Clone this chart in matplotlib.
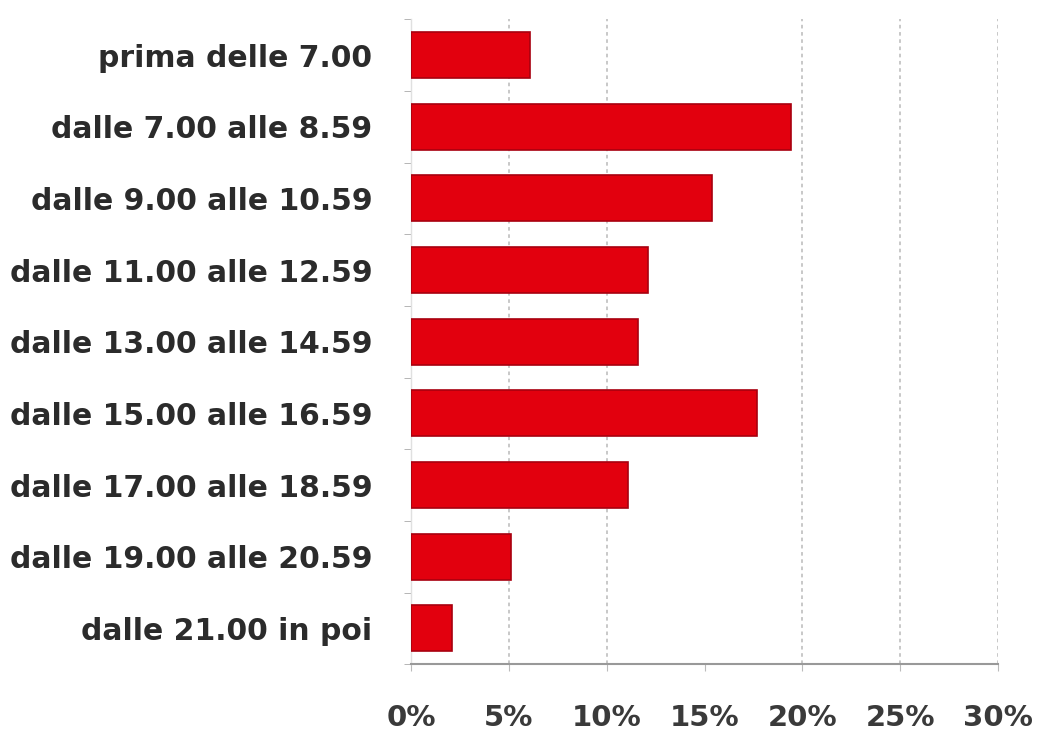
import matplotlib
matplotlib.use("Agg")
import matplotlib.pyplot as plt
from matplotlib.ticker import FixedLocator

categories = [
    "prima delle 7.00",
    "dalle 7.00 alle 8.59",
    "dalle 9.00 alle 10.59",
    "dalle 11.00 alle 12.59",
    "dalle 13.00 alle 14.59",
    "dalle 15.00 alle 16.59",
    "dalle 17.00 alle 18.59",
    "dalle 19.00 alle 20.59",
    "dalle 21.00 in poi",
]
values = [6.1, 19.4, 15.4, 12.1, 11.6, 17.7, 11.1, 5.1, 2.1]
x_ticks = [0, 5, 10, 15, 20, 25, 30]
x_labels = ["0%", "5%", "10%", "15%", "20%", "25%", "30%"]

plt.rcParams["font.family"] = ["DejaVu Sans"]

fig = plt.figure(figsize=(10.38, 7.38), dpi=100)
ax = fig.add_axes([0.396, 0.100, 0.5655, 0.874])

ypos = list(range(len(categories)))
ax.barh(ypos, values, height=0.64, color="#E2000E", edgecolor="#A8000F",
        linewidth=1.2, zorder=3)

ax.set_ylim(len(categories) - 0.5, -0.5)
ax.set_xlim(0, 30)
ax.set_yticks(ypos)
ax.set_yticklabels(categories, fontsize=21.5, fontweight="bold", color="#2b2b2b")
ax.set_xticks(x_ticks)
ax.set_xticklabels(x_labels, fontsize=21, fontweight="bold", color="#3a3a3a")

# minor ticks mark the category boundaries on the value axis
ax.yaxis.set_minor_locator(FixedLocator([i - 0.5 for i in range(len(categories) + 1)]))
ax.tick_params(axis="y", which="major", length=0, pad=28)
ax.tick_params(axis="y", which="minor", length=5, color="#aaaaaa")
ax.tick_params(axis="x", length=5, color="#bbbbbb", pad=24)

ax.grid(axis="x", color="#c4c4c4", linestyle=(0, (2, 2)), linewidth=1.3, zorder=0)
ax.xaxis.get_gridlines()[3].set_visible(False)
ax.xaxis.get_gridlines()[0].set_visible(False)

for side in ("top", "right"):
    ax.spines[side].set_visible(False)
ax.spines["bottom"].set_color("#999999")
ax.spines["bottom"].set_linewidth(1.5)
ax.spines["left"].set_color("#e0e0e0")
ax.spines["left"].set_linewidth(1.0)

fig.savefig("out.png", dpi=100, facecolor="white")
